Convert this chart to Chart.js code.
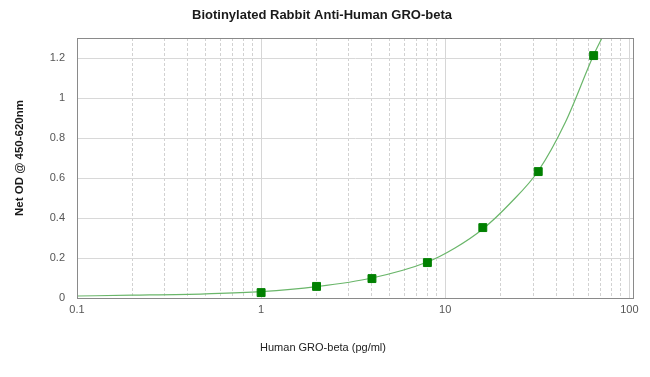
<!DOCTYPE html>
<html lang="en">
<head>
<meta charset="UTF-8">
<title>Biotinylated Rabbit Anti-Human GRO-beta</title>
<script src="https://cdn.jsdelivr.net/npm/chart.js"></script>
<style>
  html, body { margin: 0; padding: 0; background: #fff; }
  #wrap { width: 650px; height: 377px; }
</style>
</head>
<body>
<div id="wrap"><canvas id="myChart"></canvas></div>
<script>
// standard points (pg/ml, net OD)
const concentrations = [1, 2, 4, 8, 16, 32, 64];
const odValues = [0.027, 0.058, 0.097, 0.177, 0.352, 0.632, 1.212];

// fitted curve
const curveX = [0.1, 0.2, 0.5, 1, 2, 4, 8, 11.3, 16, 22.6, 32, 45, 64, 71];
const curveY = [0.01, 0.014, 0.021, 0.032, 0.057, 0.1, 0.18, 0.25, 0.345, 0.475, 0.635, 0.88, 1.215, 1.3];

// tick values
const majorTicks = [0.1, 1, 10, 100];
const minorTicks = [0.2, 0.3, 0.4, 0.5, 0.6, 0.7, 0.8, 0.9, 2, 3, 4, 5, 6, 7, 8, 9, 20, 30, 40, 50, 60, 70, 80, 90];
const yTicks = [0, 0.2, 0.4, 0.6, 0.8, 1, 1.2];

const chartTitle = 'Biotinylated Rabbit Anti-Human GRO-beta';
const xTitle = 'Human GRO-beta (pg/ml)';
const yTitle = 'Net OD @ 450-620nm';

const fontFam = '"Liberation Sans", Arial, sans-serif';

// plot frame + titles centred on the page (not on the plot)
const frame = {
  id: 'frame',
  afterDraw(chart) {
    const a = chart.chartArea, c = chart.ctx;
    c.save();
    c.strokeStyle = '#8a8a8a';
    c.lineWidth = 1;
    c.strokeRect(a.left + 0.5, a.top + 0.5, a.right - a.left - 1, a.bottom - a.top);

    c.textAlign = 'center';
    c.textBaseline = 'middle';
    c.fillStyle = '#1a1a1a';
    c.font = 'bold 13px ' + fontFam;
    c.fillText(chartTitle, 322, 15);
    c.fillStyle = '#222';
    c.font = '11px ' + fontFam;
    c.fillText(xTitle, 323, 348);

    c.translate(20, 158);
    c.rotate(-Math.PI / 2);
    c.fillStyle = '#1a1a1a';
    c.font = 'bold 11.5px ' + fontFam;
    c.fillText(yTitle, 0, 0);
    c.restore();
  }
};

const ctx = document.getElementById('myChart').getContext('2d');
new Chart(ctx, {
  type: 'scatter',
  data: {
    datasets: [{
      label: 'curve',
      order: 2,
      data: curveX.map((x, i) => ({ x: x, y: curveY[i] })),
      showLine: true,
      borderColor: '#6ab66a',
      borderWidth: 1.2,
      pointRadius: 0,
      cubicInterpolationMode: 'monotone'
    }, {
      label: 'standards',
      order: 1,
      data: concentrations.map((x, i) => ({ x: x, y: odValues[i] })),
      showLine: false,
      pointStyle: 'rect',
      pointRadius: 5.6,
      backgroundColor: '#008000',
      borderColor: '#008000',
      borderWidth: 1
    }]
  },
  options: {
    responsive: true,
    maintainAspectRatio: false,
    animation: false,
    layout: { padding: { top: 38, right: 16 } },
    plugins: {
      legend: { display: false },
      tooltip: { enabled: false },
      title: { display: false }
    },
    scales: {
      x: {
        type: 'logarithmic',
        min: 0.1,
        max: 106,
        afterBuildTicks: s => { s.ticks = majorTicks.map(v => ({ value: v })); },
        afterFit: s => { s.height = 79; },
        ticks: {
          color: '#555',
          font: { family: fontFam, size: 11 },
          padding: 5,
          autoSkip: false,
          maxRotation: 0,
          callback: v => String(v)
        },
        grid: { color: '#d6d6d6', drawTicks: false },
        border: { display: false }
      },
      x2: {
        type: 'logarithmic',
        position: 'bottom',
        min: 0.1,
        max: 106,
        afterBuildTicks: s => { s.ticks = minorTicks.map(v => ({ value: v })); },
        afterFit: s => { s.height = 0; },
        ticks: { display: false },
        grid: { color: '#d2d2d2', drawTicks: false },
        border: { display: false, dash: [3, 2] }
      },
      y: {
        min: 0,
        max: 1.3,
        afterBuildTicks: s => { s.ticks = yTicks.map(v => ({ value: v })); },
        afterFit: s => { s.width = 77; },
        ticks: {
          color: '#555',
          font: { family: fontFam, size: 11 },
          padding: 12,
          callback: v => String(v)
        },
        grid: { color: '#d8d8d8', drawTicks: false },
        border: { display: false }
      }
    }
  },
  plugins: [frame]
});
</script>
</body>
</html>
